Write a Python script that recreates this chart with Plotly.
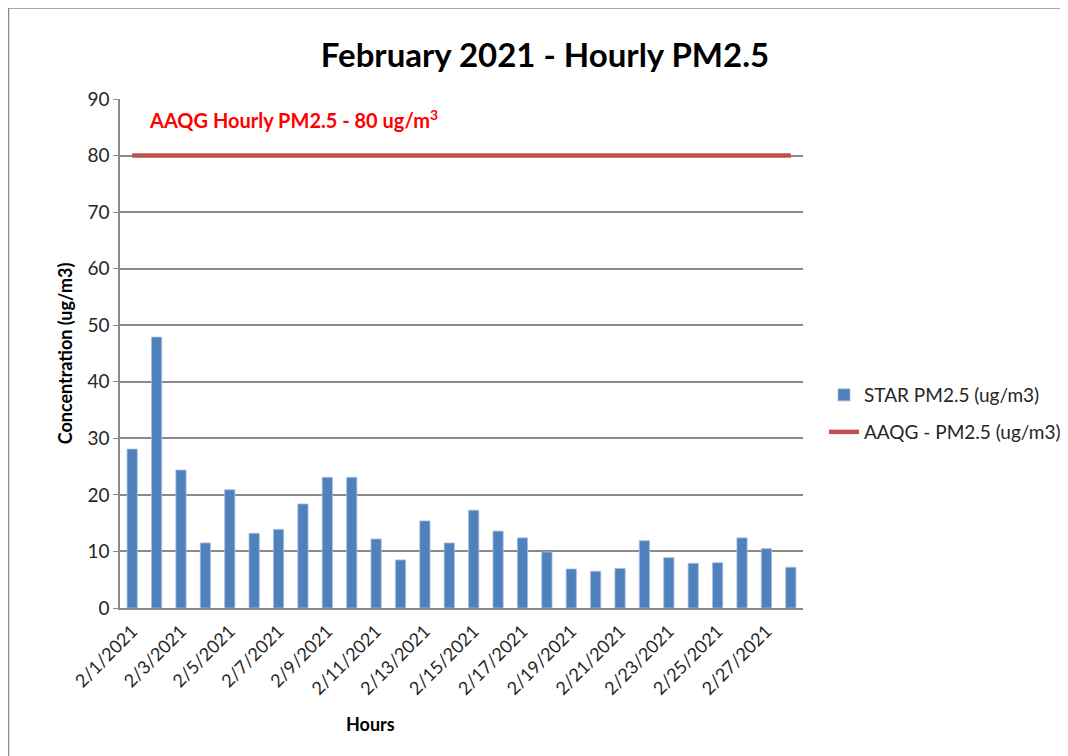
import plotly.graph_objects as go

dates = [f"2/{d}/2021" for d in range(1, 29)]
star_pm25 = [28.1, 47.9, 24.4, 11.5, 20.9, 13.2, 13.9, 18.4, 23.1, 23.1,
             12.2, 8.5, 15.4, 11.5, 17.3, 13.6, 12.4, 9.9, 6.9, 6.5,
             7.0, 11.9, 8.9, 7.9, 8.0, 12.4, 10.5, 7.2]
aaqg_limit = [80] * len(dates)
tick_labels = dates[::2]
y_ticks = [0, 10, 20, 30, 40, 50, 60, 70, 80, 90]

OFF = 8  # page body margin
W, H = 1068 - OFF, 756 - OFF
L, R, T, B = 120, 803, 99, 608  # plot area in screen pixels


def px(x):
    return (x - L) / (R - L)


def py(y):
    return (B - y) / (B - T)


FONT = "Lato"
GRID = "#8A8A8A"

fig = go.Figure()
fig.add_trace(go.Bar(
    x=dates, y=star_pm25, name="STAR PM2.5 (ug/m3)",
    marker=dict(color="#4F81BD", line=dict(color="#A7BFDE", width=0.8)),
    legend="legend",
))
fig.add_trace(go.Scatter(
    x=dates, y=aaqg_limit, name="AAQG - PM2.5 (ug/m3)", mode="lines",
    line=dict(color="#C0504D", width=4.5), legend="legend2",
))

fig.update_layout(
    width=W, height=H,
    margin=dict(l=L - OFF, r=1068 - R, t=T - OFF, b=756 - B, autoexpand=False),
    paper_bgcolor="white", plot_bgcolor="white",
    bargap=0.58,
    font=dict(family=FONT, color="#262626"),
    title=dict(text="<b>February 2021 - Hourly PM2.5</b>", x=(545 - OFF) / W, xref="container",
               xanchor="center", y=1 - (55 - OFF) / H, yref="container", yanchor="middle",
               font=dict(family=FONT, size=33, color="black")),
    xaxis=dict(type="category", range=[-0.5, 27.5], tickmode="array",
               tickvals=tick_labels, ticktext=tick_labels, tickangle=-45,
               tickfont=dict(size=18, family=FONT, color="#262626"),
               ticklabelstandoff=4, automargin=False,
               showline=True, linecolor=GRID, linewidth=1.5, showgrid=False,
               ticks=""),
    yaxis=dict(range=[0, 90], tickvals=y_ticks, showgrid=True, gridcolor=GRID,
               gridwidth=1.5, zeroline=False, showline=True, linecolor=GRID,
               linewidth=1.5, ticks="outside", ticklen=5, tickcolor=GRID,
               tickfont=dict(size=19, family=FONT, color="#262626"),
               automargin=False,
               title=dict(text="<b>Concentration (ug/m3)</b>", standoff=10,
                          font=dict(size=18, family=FONT, color="black"))),
    legend=dict(x=px(824), y=py(395), xanchor="left", yanchor="middle",
                font=dict(size=19, family=FONT, color="#262626"),
                bgcolor="rgba(0,0,0,0)"),
    legend2=dict(x=px(824), y=py(432), xanchor="left", yanchor="middle",
                 font=dict(size=19, family=FONT, color="#262626"),
                 bgcolor="rgba(0,0,0,0)"),
    showlegend=True,
)

fig.add_annotation(text="<b>AAQG Hourly PM2.5 - 80 ug/m<sup>3</sup></b>",
                   x=px(147), y=py(119), xref="paper", yref="paper",
                   xanchor="left", yanchor="middle", showarrow=False,
                   font=dict(family=FONT, size=20, color="#FF0000"))
fig.add_annotation(text="<b>Hours</b>", x=px(370), y=py(724), xref="paper", yref="paper",
                   xanchor="center", yanchor="middle", showarrow=False,
                   font=dict(family=FONT, size=18, color="black"))

# chart area border
fig.add_shape(type="rect", xref="paper", yref="paper",
              x0=px(8.5), y0=py(790), x1=px(1100), y1=py(8),
              line=dict(color="#8C8C8C", width=1.5), layer="below")

fig.write_html("out.html")
